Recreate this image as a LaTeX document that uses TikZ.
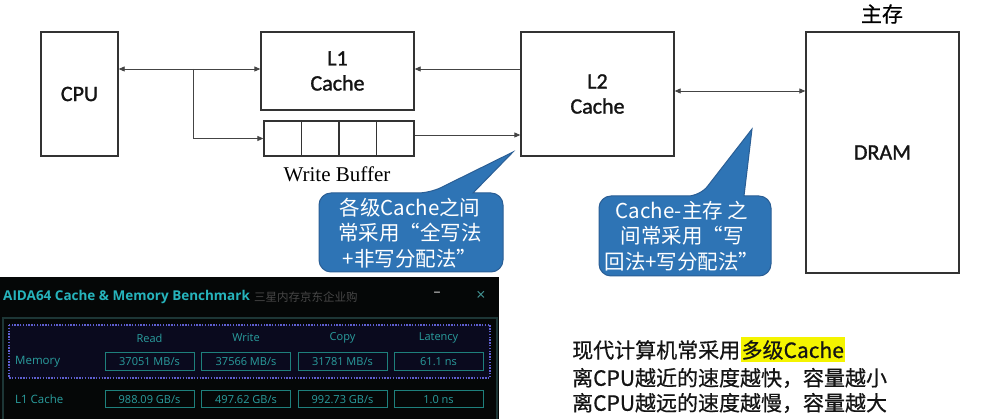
\documentclass[tikz,border=0pt]{standalone}
\usepackage{fontspec}
\setmainfont{Carlito}
\newfontfamily\boxf[FakeBold=1.3]{Carlito}
\newfontfamily\cjk{Noto Sans CJK SC}
\newfontfamily\cjkn[FakeBold=0.6]{Noto Sans CJK SC}
\newfontfamily\serifwb{Liberation Serif}
\newfontfamily\osans{Open Sans}
\usetikzlibrary{arrows.meta,calc}
\definecolor{boxc}{HTML}{333333}
\definecolor{arrc}{HTML}{444444}
\definecolor{callblue}{HTML}{2E74B5}
\definecolor{callborder}{HTML}{2A5E95}
\definecolor{panelbg}{HTML}{050707}
\definecolor{framec}{HTML}{1D3636}
\definecolor{dotc}{HTML}{5E5ED0}
\definecolor{navy}{HTML}{0A0A1E}
\definecolor{tealt}{HTML}{26B4BC}
\definecolor{tealv}{HTML}{2A9E9E}
\definecolor{tealb}{HTML}{1E807C}
\definecolor{hl}{HTML}{F4F400}
\begin{document}
\begin{tikzpicture}[x=1pt,y=-1pt,
  blk/.style={draw=boxc, line width=1.3, inner sep=0, text=black!92,
    font=\boxf\fontsize{22}{25}\selectfont, align=center},
  conn/.style={draw=arrc, line width=0.8, -{Triangle[length=6,width=5]}},
  biconn/.style={draw=arrc, line width=0.8, {Triangle[length=6,width=5]}-{Triangle[length=6,width=5]}},
  callout/.style={fill=callblue, draw=callborder, line width=1},
  calltext/.style={text=white, font=\cjk\fontsize{20.5}{25.5}\selectfont, align=center, inner sep=0},
  note/.style={anchor=west, inner sep=0, text=black!92, font=\cjkn\fontsize{21}{25}\selectfont},
  hdr/.style={text=tealv, font=\osans\fontsize{11}{13}\selectfont, inner sep=0},
  valbox/.style={draw=tealb, line width=1, minimum width=89, minimum height=18, inner sep=0,
    text=tealv, font=\osans\fontsize{11}{13}\selectfont},
  rowlab/.style={anchor=west, text=tealv, font=\osans\fontsize{11.5}{13}\selectfont, inner sep=0}
]
\useasboundingbox (0,0) rectangle (1002,419);
\fill[white] (0,0) rectangle (1002,419);

% main blocks
\node[blk, minimum width=77, minimum height=124] (cpu) at (79.5,94) {CPU};
\node[blk, minimum width=153, minimum height=78] (l1) at (337.5,71) {L1\\Cache};
\node[blk, minimum width=150, minimum height=35] (wb) at (339,138.5) {};
\node[blk, minimum width=153, minimum height=124] (l2) at (597.5,94) {L2\\Cache};
\node[blk, minimum width=153, minimum height=241] (dram) at (882.5,152.5) {DRAM};
\foreach \f in {0.25,0.5,0.75}
  \draw[boxc, line width=1.3] ($(wb.north west)!\f!(wb.north east)$) -- ($(wb.south west)!\f!(wb.south east)$);

\node[font=\serifwb\fontsize{21}{24}\selectfont, inner sep=0] (wblab) at (337,174) {Write Buffer};
\node[font=\cjkn\fontsize{21}{24}\selectfont, inner sep=0] (mainmem) at (882,14) {主存};

% connectors
\coordinate (br) at (193,69);
\coordinate (l1in) at ($(l1.west)+(0,-2)$);
\coordinate (l1out) at ($(l1.east)+(0,-2)$);
\draw[biconn] (cpu.east |- l1in) -- (l1in);
\draw[conn] (br) |- (wb.west);
\draw[conn] (l2.west |- l1out) -- (l1out);
\coordinate (wbout) at ($(wb.east)+(0,-3.5)$);
\draw[conn] (wbout) -- (wbout -| l2.west);
\coordinate (l2out) at ($(l2.east)+(0,-3)$);
\draw[biconn] (l2out) -- (l2out -| dram.west);

% callouts
\path[callout] (319,232) [rounded corners=12] -- (319,193) -- (430,193) [sharp corners] -- (513,152) -- (473,193) [rounded corners=12] -- (503,193) -- (503,272) -- (319,272) -- cycle;
\node[calltext] (c1) at (410,233) {各级Cache之间\\常采用“全写法\\+非写分配法”};
\path[callout] (599,236) [rounded corners=12] -- (599,196) -- (700,196) [sharp corners] -- (752,129) -- (744,196) [rounded corners=12] -- (771,196) -- (771,276) -- (599,276) -- cycle;
\node[calltext] (c2) at (682,236) {Cache-主存 之\\间常采用“写\\回法+写分配法”};

% notes
\node[note] (n1) at (572,350) {现代计算机常采用};
\node[note, fill=hl, anchor=west, inner xsep=1, minimum height=25] (n1h) at (n1.east) {多级Cache};
\node[note] (n2) at (572,378) {离CPU越近的速度越快，容量越小};
\node[note] (n3) at (572,403) {离CPU越远的速度越慢，容量越大};

% AIDA64 panel
\fill[panelbg] (0,277) rectangle (499,419);
\draw[framec, line width=1.2] (3,420) |- (497,318) -- (497,420);
\draw[dotc, line width=1.3, dash pattern=on 1.4 off 1.4, fill=navy] (9,325) rectangle (490,378);
\node[anchor=west, inner sep=0, text=tealt, font=\osans\bfseries\fontsize{13.5}{16}\selectfont] (title) at (3,297) {AIDA64 Cache \& Memory Benchmark};
\node[anchor=west, inner sep=0, text=black!72, font=\cjk\fontsize{11.5}{14}\selectfont] (sub) at (254,297) {三星内存京东企业购};
\node[inner sep=0, text=black!45, font=\osans\bfseries\fontsize{14}{16}\selectfont] (minb) at (437,294) {–};
\node[inner sep=0, text=tealv!70!gray, font=\osans\fontsize{16}{16}\selectfont] (closeb) at (481,296) {×};

\node[hdr] (h1) at (149.5,338) {Read};
\node[hdr] (h2) at (246,338) {Write};
\node[hdr] (h3) at (342.5,338) {Copy};
\node[hdr] (h4) at (438.5,338) {Latency};
\node[rowlab] (r1) at (15,362) {Memory};
\node[rowlab] (r2) at (15,399.5) {L1 Cache};
\node[valbox] (v11) at (149.5,362) {37051 MB/s};
\node[valbox] (v12) at (246,362) {37566 MB/s};
\node[valbox] (v13) at (342.5,362) {31781 MB/s};
\node[valbox] (v14) at (438.5,362) {61.1 ns};
\node[valbox, minimum height=17] (v21) at (149.5,399.5) {988.09 GB/s};
\node[valbox, minimum height=17] (v22) at (246,399.5) {497.62 GB/s};
\node[valbox, minimum height=17] (v23) at (342.5,399.5) {992.73 GB/s};
\node[valbox, minimum height=17] (v24) at (438.5,399.5) {1.0 ns};
\end{tikzpicture}
\end{document}
